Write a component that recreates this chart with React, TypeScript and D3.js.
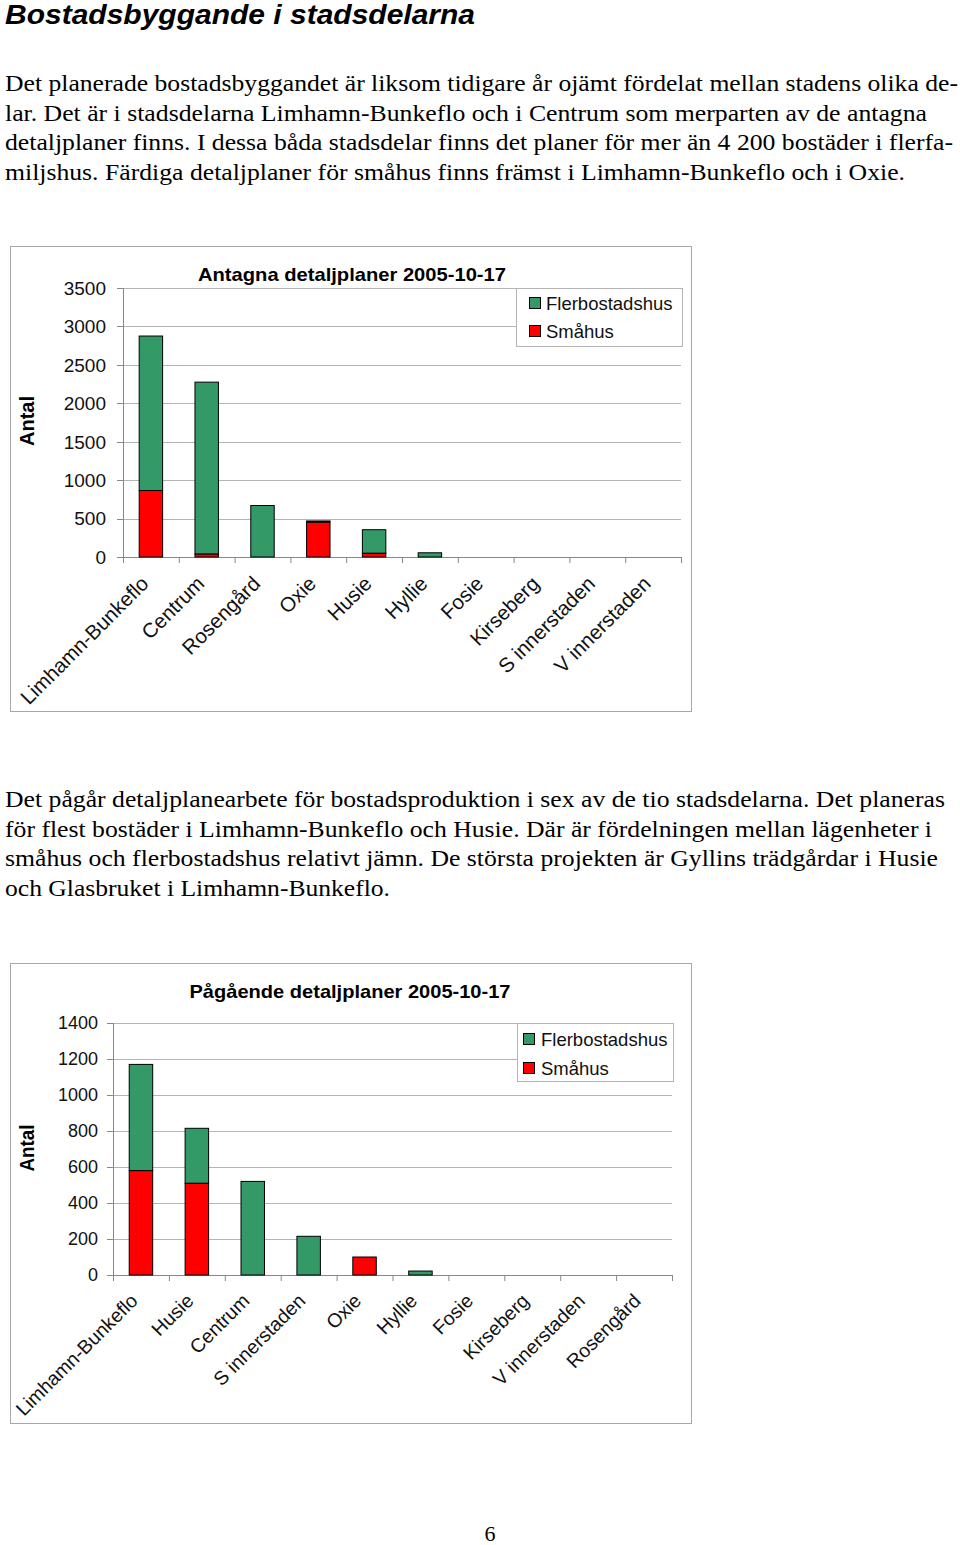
import React from "react";
import * as d3 from "d3";

const categories1 = ["Limhamn-Bunkeflo", "Centrum", "Rosengård", "Oxie", "Husie", "Hyllie", "Fosie", "Kirseberg", "S innerstaden", "V innerstaden"];
const flerbostadshus1 = [2010, 2235, 670, 14, 305, 55, 0, 0, 0, 0];
const smahus1 = [865, 40, 0, 455, 50, 0, 0, 0, 0, 0];
const ticks1 = [0, 500, 1000, 1500, 2000, 2500, 3000, 3500];

const categories2 = ["Limhamn-Bunkeflo", "Husie", "Centrum", "S innerstaden", "Oxie", "Hyllie", "Fosie", "Kirseberg", "V innerstaden", "Rosengård"];
const flerbostadshus2 = [590, 305, 520, 215, 0, 22, 0, 0, 0, 0];
const smahus2 = [580, 510, 0, 0, 100, 0, 0, 0, 0, 0];
const ticks2 = [0, 200, 400, 600, 800, 1000, 1200, 1400];

const seriesNames = ["Flerbostadshus", "Småhus"];
const GREEN = "#339966";
const RED = "#ff0000";

const para1 = [
  "Det planerade bostadsbyggandet är liksom tidigare år ojämt fördelat mellan stadens olika de-",
  "lar. Det är i stadsdelarna Limhamn-Bunkeflo och i Centrum som merparten av de antagna",
  "detaljplaner finns. I dessa båda stadsdelar finns det planer för mer än 4 200 bostäder i flerfa-",
  "miljshus. Färdiga detaljplaner för småhus finns främst i Limhamn-Bunkeflo och i Oxie.",
];
const para1Widths = [953, 922, 948, 900];
const para2 = [
  "Det pågår detaljplanearbete för bostadsproduktion i sex av de tio stadsdelarna. Det planeras",
  "för flest bostäder i Limhamn-Bunkeflo och Husie. Där är fördelningen mellan lägenheter i",
  "småhus och flerbostadshus relativt jämn. De största projekten är Gyllins trädgårdar i Husie",
  "och Glasbruket i Limhamn-Bunkeflo.",
];
const para2Widths = [940, 927, 933, 385];

const SANS = "'Liberation Sans', Arial, Helvetica, sans-serif";
const SERIF = "'Liberation Serif', 'Times New Roman', serif";

type ChartProps = {
  frame: [number, number, number, number];
  title: string;
  titleX: number;
  titleY: number;
  titleW: number;
  categories: string[];
  fler: number[];
  sma: number[];
  ticks: number[];
  xRange: [number, number];
  yRange: [number, number];
  yMax: number;
  tickLabelX: number;
  tickFont: number;
  labelFont: number;
  labelDx: number;
  labelDy: number;
  antal: [number, number, number];
  legend: [number, number, number, number];
  swatchX: number;
  textX: number;
  rowYs: [number, number];
};

function Chart(p: ChartProps) {
  const x = d3.scaleBand<string>().domain(p.categories).range(p.xRange).paddingInner(0.58).paddingOuter(0.29);
  const y = d3.scaleLinear().domain([0, p.yMax]).range(p.yRange);
  const step = x.step();
  const [fx, fy, fw, fh] = p.frame;
  const [lx, ly, lw, lh] = p.legend;
  const y0 = y(0);
  const boundaries = d3.range(p.categories.length + 1).map((i) => p.xRange[0] + i * step);
  return (
    <g>
      <rect x={fx + 0.5} y={fy + 0.5} width={fw} height={fh} fill="#fff" stroke="#a8a8a8" strokeWidth={1} />
      <text x={p.titleX} y={p.titleY} fontFamily={SANS} fontWeight="bold" fontSize={19} textAnchor="middle" textLength={p.titleW} lengthAdjust="spacingAndGlyphs">
        {p.title}
      </text>
      {p.ticks.map((t) => (
        <g key={"g" + t}>
          {t > 0 && <line x1={p.xRange[0]} x2={p.xRange[1]} y1={Math.round(y(t)) + 0.5} y2={Math.round(y(t)) + 0.5} stroke="#b4b4b4" strokeWidth={1} />}
          <line x1={p.xRange[0] - 6} x2={p.xRange[0]} y1={Math.round(y(t)) + 0.5} y2={Math.round(y(t)) + 0.5} stroke="#888" strokeWidth={1} />
          <text x={p.tickLabelX} y={y(t)} dy="0.36em" textAnchor="end" fontFamily={SANS} fontSize={p.tickFont} fill="#111">
            {t}
          </text>
        </g>
      ))}
      <line x1={p.xRange[0] + 0.5} x2={p.xRange[0] + 0.5} y1={y(p.yMax)} y2={y0} stroke="#888" strokeWidth={1} />
      <line x1={p.xRange[0]} x2={p.xRange[1]} y1={Math.round(y0) + 0.5} y2={Math.round(y0) + 0.5} stroke="#888" strokeWidth={1} />
      {boundaries.map((b, i) => (
        <line key={"b" + i} x1={b + 0.5} x2={b + 0.5} y1={y0} y2={y0 + 6} stroke="#888" strokeWidth={1} />
      ))}
      {p.categories.map((c, i) => {
        const bx = x(c) as number;
        const bw = x.bandwidth();
        const s = p.sma[i];
        const f = p.fler[i];
        return (
          <g key={"bar" + c}>
            {s > 0 && <rect x={bx} y={y(s)} width={bw} height={y0 - y(s)} fill={RED} stroke="#000" strokeWidth={1} />}
            {f > 0 && <rect x={bx} y={y(s + f)} width={bw} height={y(s) - y(s + f)} fill={GREEN} stroke="#000" strokeWidth={1} />}
          </g>
        );
      })}
      {p.categories.map((c) => {
        const cx = (x(c) as number) + x.bandwidth() / 2 + p.labelDx;
        const cy = y0 + p.labelDy;
        return (
          <text key={"l" + c} x={cx} y={cy} transform={`rotate(-45 ${cx} ${cy})`} textAnchor="end" fontFamily={SANS} fontSize={p.labelFont} fill="#111">
            {c}
          </text>
        );
      })}
      <text x={p.antal[0]} y={p.antal[1]} transform={`rotate(-90 ${p.antal[0]} ${p.antal[1]})`} textAnchor="middle" fontFamily={SANS} fontWeight="bold" fontSize={20} dy="0.36em" textLength={p.antal[2]} lengthAdjust="spacingAndGlyphs">
        Antal
      </text>
      <rect x={lx + 0.5} y={ly + 0.5} width={lw} height={lh} fill="#fff" stroke="#b4b4b4" strokeWidth={1} />
      {seriesNames.map((n, i) => (
        <g key={n}>
          <rect x={p.swatchX + 0.5} y={p.rowYs[i] - 5.5} width={11} height={11} fill={i === 0 ? GREEN : RED} stroke="#000" strokeWidth={1} />
          <text x={p.textX} y={p.rowYs[i]} dy="0.36em" fontFamily={SANS} fontSize={18.5} fill="#111">
            {n}
          </text>
        </g>
      ))}
    </g>
  );
}

export default function App() {
  return (
    <div style={{ position: "absolute", left: 0, top: 0 }}>
      <svg width={960} height={1545} style={{ display: "block" }}>
        <rect width={960} height={1545} fill="#fff" />
        <text x={5} y={24} fontFamily={SANS} fontWeight="bold" fontStyle="italic" fontSize={28} textLength={470} lengthAdjust="spacingAndGlyphs">
          Bostadsbyggande i stadsdelarna
        </text>
        {para1.map((l, i) => (
          <text key={"p1" + i} x={5} y={91 + i * 29.5} fontFamily={SERIF} fontSize={23} textLength={para1Widths[i]} lengthAdjust="spacingAndGlyphs">
            {l}
          </text>
        ))}
        <Chart
          frame={[10, 246, 681, 465]}
          title="Antagna detaljplaner 2005-10-17"
          titleX={352}
          titleY={281}
          titleW={308}
          categories={categories1}
          fler={flerbostadshus1}
          sma={smahus1}
          ticks={ticks1}
          xRange={[123, 681]}
          yRange={[557, 288]}
          yMax={3500}
          tickLabelX={106}
          tickFont={19}
          labelFont={20.5}
          labelDx={-1}
          labelDy={28}
          antal={[27, 421, 50]}
          legend={[516, 288, 166, 58]}
          swatchX={529}
          textX={546}
          rowYs={[303, 331]}
        />
        {para2.map((l, i) => (
          <text key={"p2" + i} x={5} y={807 + i * 29.5} fontFamily={SERIF} fontSize={23} textLength={para2Widths[i]} lengthAdjust="spacingAndGlyphs">
            {l}
          </text>
        ))}
        <Chart
          frame={[10, 963, 681, 460]}
          title="Pågående detaljplaner 2005-10-17"
          titleX={350}
          titleY={998}
          titleW={321}
          categories={categories2}
          fler={flerbostadshus2}
          sma={smahus2}
          ticks={ticks2}
          xRange={[113, 672]}
          yRange={[1275, 1023]}
          yMax={1400}
          tickLabelX={98}
          tickFont={18}
          labelFont={19.5}
          labelDx={-2}
          labelDy={27}
          antal={[27, 1148, 47]}
          legend={[517, 1023, 156, 58]}
          swatchX={523}
          textX={541}
          rowYs={[1039, 1068]}
        />
        <text x={490} y={1541} textAnchor="middle" fontFamily={SERIF} fontSize={22}>
          6
        </text>
      </svg>
    </div>
  );
}
